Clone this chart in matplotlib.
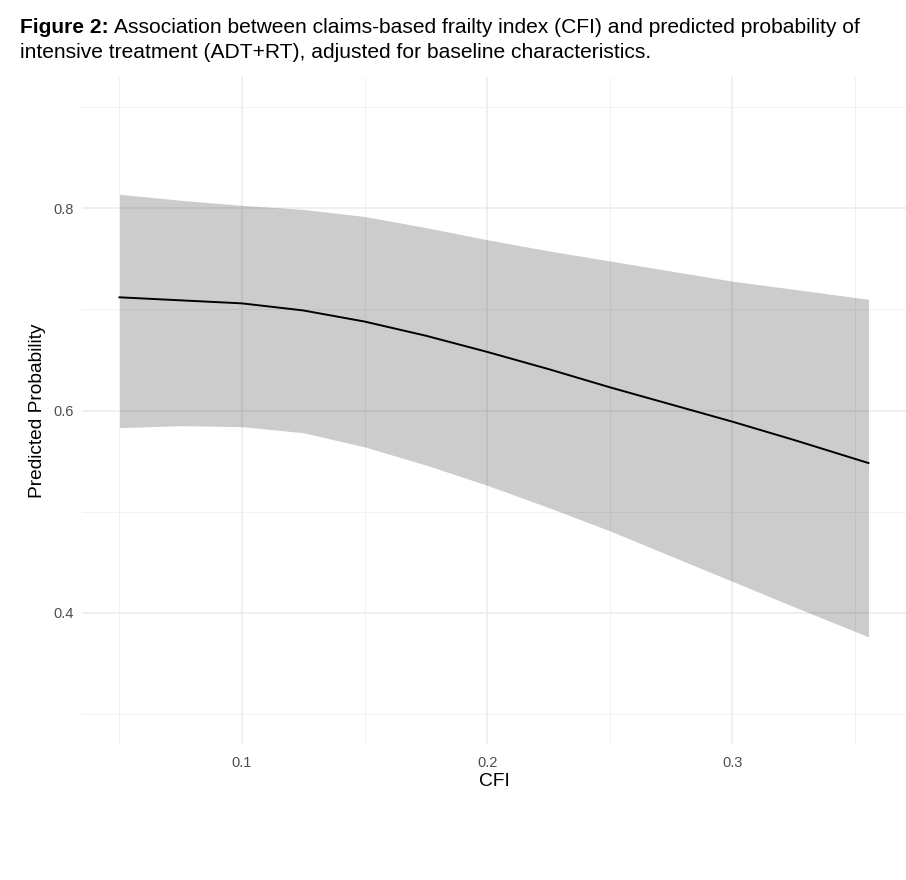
import matplotlib
matplotlib.use("Agg")
import matplotlib.pyplot as plt
from matplotlib.ticker import MultipleLocator

plt.rcParams['font.family'] = ['Liberation Sans', 'DejaVu Sans']

# values
cfi = [0.05, 0.075, 0.1, 0.125, 0.15, 0.175, 0.2, 0.225, 0.25, 0.275, 0.3, 0.325, 0.3556]
prob = [0.712, 0.709, 0.706, 0.699, 0.688, 0.674, 0.658, 0.641, 0.623, 0.606, 0.589, 0.571, 0.548]
upper = [0.814, 0.808, 0.803, 0.799, 0.792, 0.781, 0.769, 0.758, 0.748, 0.738, 0.728, 0.720, 0.710]
lower = [0.583, 0.585, 0.584, 0.578, 0.564, 0.546, 0.526, 0.504, 0.481, 0.456, 0.431, 0.406, 0.376]

x_ticks = [0.1, 0.2, 0.3]
y_ticks = [0.4, 0.6, 0.8]

W, H = 906, 880
fig = plt.figure(figsize=(W / 100, H / 100), dpi=100)
ax = fig.add_axes([82 / W, 1 - 744 / H, (906 - 82) / W, (744 - 77) / H])

# grid (theme_minimal look)
ax.set_axisbelow(True)
ax.xaxis.set_major_locator(MultipleLocator(0.1))
ax.xaxis.set_minor_locator(MultipleLocator(0.05))
ax.yaxis.set_major_locator(MultipleLocator(0.2))
ax.yaxis.set_minor_locator(MultipleLocator(0.1))
ax.grid(which='major', color='#EBEBEB', linewidth=1.1)
ax.grid(which='minor', color='#F2F2F2', linewidth=0.7)

ax.fill_between(cfi, lower, upper, color='black', alpha=0.2, linewidth=0, zorder=2)
ax.plot(cfi, prob, color='black', linewidth=1.4, zorder=3)

ax.set_xlim(0.0347, 0.3709)
ax.set_ylim(0.27, 0.93)
ax.set_xticks(x_ticks)
ax.set_xticklabels([f'{v:g}' for v in x_ticks])
ax.set_yticks(y_ticks)
ax.set_yticklabels([f'{v:g}' for v in y_ticks])
ax.tick_params(which='both', length=0, labelsize=10.5, labelcolor='#4D4D4D')
ax.tick_params(axis='x', pad=8.5)
ax.tick_params(axis='y', pad=6)
for s in ax.spines.values():
    s.set_visible(False)

ax.set_xlabel('CFI', fontsize=13.8, labelpad=2)
ax.set_ylabel('Predicted Probability', fontsize=13.8, labelpad=5)

# title with bold lead-in
t1 = fig.text(20 / W, 1 - 33 / H, 'Figure 2:', fontsize=15.1, fontweight='bold')
fig.canvas.draw()
bb = t1.get_window_extent(fig.canvas.get_renderer())
fig.text(bb.x1 / W + 5 / W, 1 - 33 / H,
         'Association between claims-based frailty index (CFI) and predicted probability of',
         fontsize=15.1)
fig.text(20 / W, 1 - 58 / H,
         'intensive treatment (ADT+RT), adjusted for baseline characteristics.',
         fontsize=15.1)

fig.savefig('out.png', dpi=100, facecolor='white')
